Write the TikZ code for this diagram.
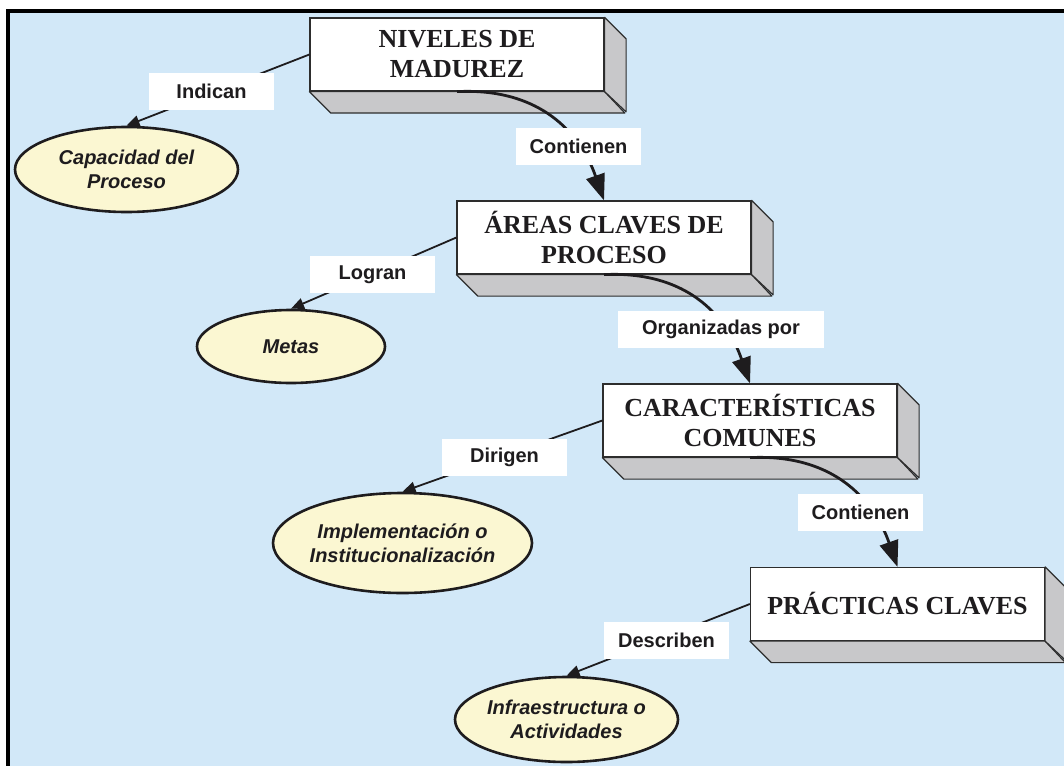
\documentclass[tikz,border=0pt]{standalone}
\usepackage{fontspec}
\setmainfont{Liberation Serif}
\setsansfont{Liberation Sans}
\usetikzlibrary{shapes.geometric,arrows.meta}

\definecolor{bgblue}{RGB}{210,232,248}
\definecolor{ovalfill}{RGB}{251,247,210}
\definecolor{sidegray}{RGB}{200,200,202}
\definecolor{edgegray}{RGB}{45,45,45}
\definecolor{ink}{RGB}{30,28,30}

\tikzset{
  stage/.style={draw=edgegray, line width=1.2pt, fill=white, minimum width=294pt,
    minimum height=73pt, inner sep=0pt, align=center, text=ink,
    font=\fontsize{26}{30}\selectfont\bfseries},
  side/.style={draw=edgegray, line width=1.2pt, fill=sidegray, line join=round},
  oval/.style={ellipse, draw=ink, line width=2.6pt, fill=ovalfill, inner xsep=-15pt,
    inner ysep=0pt, align=center, text=ink,
    font=\sffamily\bfseries\itshape\fontsize{20}{24}\selectfont},
  tag/.style={fill=white, minimum height=37pt, minimum width=125pt, inner sep=0pt,
    text=ink, font=\sffamily\bfseries\fontsize{20}{24}\selectfont},
  link/.style={draw=ink, line width=1.8pt, -{Triangle[length=13pt,width=11pt]}},
  flow/.style={draw=ink, line width=2.8pt, -{Triangle[length=26pt,width=19pt]}},
}

% grey bottom and right faces that give a stage box its depth
\newcommand\solidfaces[1]{%
  \draw[side] (#1.south west) -- ++(21.5,21.5) -- ++(294,0) -- (#1.south east) -- cycle;
  \draw[side] (#1.north east) -- ++(21.5,21.5) -- ++(0,73) -- (#1.south east) -- cycle;
}

\begin{document}
\begin{tikzpicture}[x=1pt,y=-1pt]
  \useasboundingbox (0,0) rectangle (1064,765);
  \clip (0,0) rectangle (1064,765);

  % panel
  \fill[bgblue] (8,11) rectangle (1075,775);
  \draw[black, line width=4pt] (8,775) -- (8,11) -- (1075,11);

  % stages
  \node[stage] (b1) at (457,54.5) {NIVELES DE\\MADUREZ};
  \node[stage] (b2) at (604,237.5) {ÁREAS CLAVES DE\\PROCESO};
  \node[stage] (b3) at (750,420.5) {CARACTERÍSTICAS\\COMUNES};
  \node[stage] (b4) at (897.5,604) {PRÁCTICAS CLAVES};
  \solidfaces{b1}
  \solidfaces{b2}
  \solidfaces{b3}
  \solidfaces{b4}

  % outcomes
  \node[oval, minimum width=223pt, minimum height=85pt] (e1) at (126.5,169.5) {Capacidad del\\Proceso};
  \node[oval, minimum width=188pt, minimum height=73pt] (e2) at (291,346.5) {Metas};
  \node[oval, minimum width=259pt, minimum height=100pt] (e3) at (402.5,543) {Implementación o\\Institucionalización};
  \node[oval, minimum width=223pt, minimum height=85pt] (e4) at (566.5,719.5) {Infraestructura o\\Actividades};

  % side links
  \draw[link] (b1.west) -- (e1.north);
  \draw[link] (b2.west) -- (e2.north);
  \draw[link] (b3.west) -- (e3.north);
  \draw[link] (b4.west) -- (e4.north);

  % main flow
  \draw[flow] (b1.south) .. controls +(105,-5) and +(-14,-40) .. (b2.north);
  \draw[flow] (b2.south) .. controls +(105,-5) and +(-14,-40) .. (b3.north);
  \draw[flow] (b3.south) .. controls +(105,-5) and +(-14,-40) .. (b4.north);

  % relation names
  \node[tag] (t1) at (211.5,91.5) {Indican};
  \node[tag] (t2) at (578.5,146.5) {Contienen};
  \node[tag] (t3) at (372.5,274.5) {Logran};
  \node[tag, minimum width=206pt] (t4) at (721,329.5) {Organizadas por};
  \node[tag] (t5) at (504.5,457.5) {Dirigen};
  \node[tag] (t6) at (860.5,512.5) {Contienen};
  \node[tag] (t7) at (666.5,640.5) {Describen};
\end{tikzpicture}
\end{document}
